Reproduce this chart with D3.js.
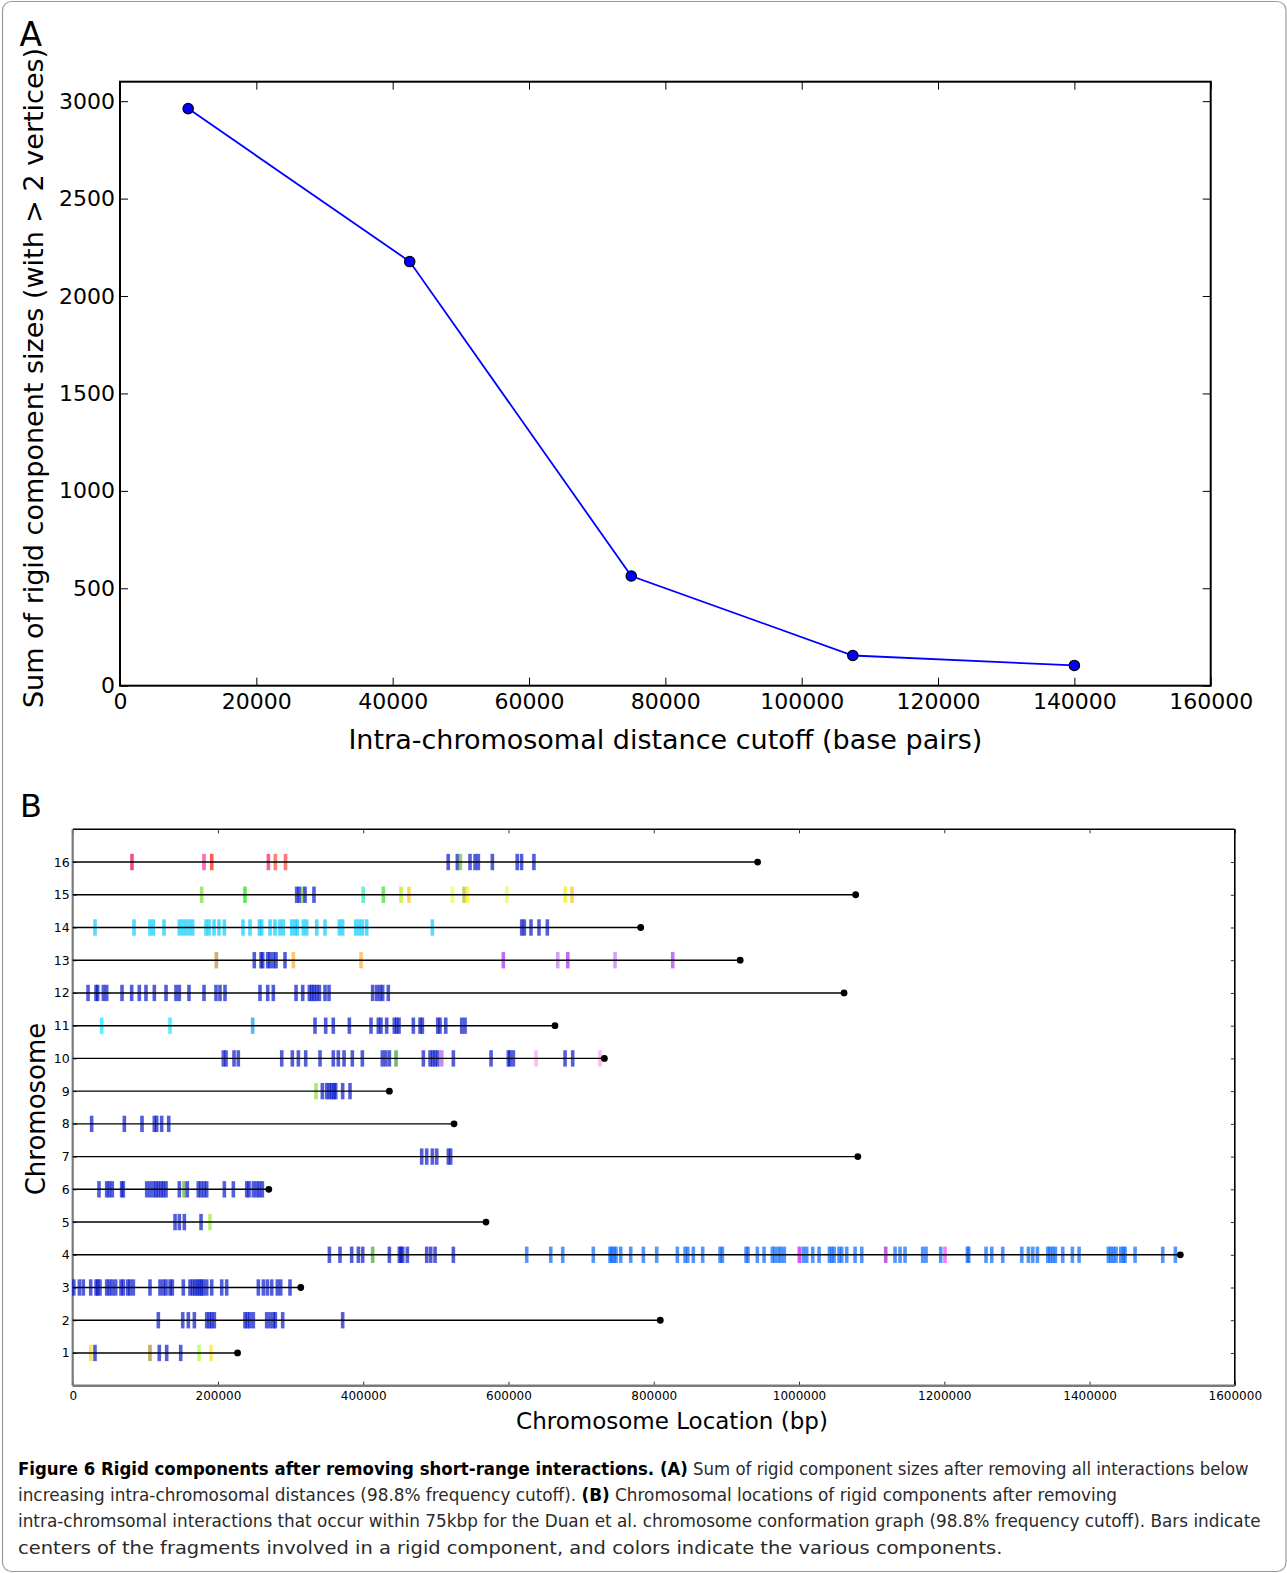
<!DOCTYPE html>
<html>
<head>
<meta charset="utf-8">
<script src="https://cdn.jsdelivr.net/npm/d3@7"></script>
<style>
  body { margin: 0; background: #fff; }
  text { font-family: "DejaVu Sans", sans-serif; }
</style>
</head>
<body>
<svg id="fig" width="1287" height="1573"></svg>
<script>
// ---- panel A data ----
var cutoffs = [10000, 42500, 75000, 107500, 140000];
var rigidSums = [2962, 2177, 563, 155, 104];
var xTicksA = [0, 20000, 40000, 60000, 80000, 100000, 120000, 140000, 160000];
var yTicksA = [0, 500, 1000, 1500, 2000, 2500, 3000];

// ---- panel B data (positions in kbp) ----
var chromosomes = [1, 2, 3, 4, 5, 6, 7, 8, 9, 10, 11, 12, 13, 14, 15, 16];
var chromLengths = [227, 809, 314, 1525, 569, 270, 1081, 525, 436, 732, 664, 1062, 919, 782, 1078, 943];
var xTicksB = [0, 200, 400, 600, 800, 1000, 1200, 1400, 1600];

var B = "#0011cc", LB = "#0066ff", CY = "#00ccff";
var chr1 = [[24.8, "#ffd700"], [30.7, B], [106.4, "#aa8811"], [119.2, B], [129.4, B], [148.7, B], [173.9, "#aaff22"], [190.4, "#ffe600"]];
var chr2 = [117.9, 151.5, 159.2, 167.5, 184.5, 188.1, 191.4, 195, 237.2, 240.4, 244.1, 248.7, 267.1, 271.7, 276.2, 279, 289.1, 371.7].map(function(p){ return [p, B]; });
var chr3 = [1.5, 9.2, 14.6, 24.8, 32.1, 34.4, 37.6, 46.8, 50.4, 54.5, 59.2, 66.5, 69.7, 75.7, 78.9, 83.5, 106.4, 120.2, 124.8, 128.5, 134, 137.2,
  152.3, 161.5, 165.2, 168.4, 171.6, 174.3, 177.1, 179.8, 184.5, 191.4, 205.2, 212, 255.6, 262.5, 268, 274, 281.7, 286.4, 299.2].map(function(p){ return [p, B]; });
var chr4 = [[353.4, B], [368, B], [384.1, B], [393.3, B], [399.3, B], [413, "#33aa22"], [436, B], [449.7, B], [452, B], [454.4, B], [460.7, B],
  [487.4, B], [492.9, B], [498.9, B], [524.1, B],
  [625.1, LB], [658.2, LB], [674.7, LB], [716.8, LB], [739.8, LB], [742.1, LB], [745.3, LB], [748, LB], [754.5, LB], [768.3, LB], [785.7, LB],
  [804.1, LB], [832.5, LB], [843.1, LB], [846.8, LB], [854.5, LB], [867.4, LB], [891.3, LB], [894.5, LB], [927.1, LB], [929.8, LB], [942.6, LB],
  [951.9, LB], [963.3, LB], [967, LB], [971.6, LB], [975.3, LB], [979.8, LB], [1000.5, "#cc00ee"], [1006, LB], [1010.6, LB], [1018.9, LB],
  [1027.6, LB], [1041.8, LB], [1045, LB], [1048.3, LB], [1055.1, LB], [1058.8, LB], [1065.7, LB], [1077.2, LB], [1086.4, LB], [1119.4, "#aa11cc"],
  [1132.2, LB], [1139.1, LB], [1146, LB], [1170.3, LB], [1174.9, LB], [1195.1, LB], [1201, "#ff33ff"], [1231.8, LB], [1233.7, LB], [1257.5, LB],
  [1265.4, LB], [1280.5, LB], [1306.7, LB], [1315.8, LB], [1321.8, LB], [1328.2, LB], [1342.5, LB], [1345.6, LB], [1349.4, LB], [1352.9, LB],
  [1363.1, LB], [1376.4, LB], [1385.6, LB], [1425.9, LB], [1429.2, LB], [1432.8, LB], [1436.5, LB], [1443, LB], [1446.6, LB], [1448.9, LB],
  [1462.7, LB], [1500.8, LB], [1518.2, LB]];
var chr5 = [[140.9, B], [146.8, B], [153.7, B], [176.7, B], [189, "#99ee22"]];
var chr6 = [[36.2, B], [46.8, B], [50.4, B], [54.5, B], [67.4, B], [69.7, B], [101.9, B], [106.4, B], [111, B], [114.7, B], [117.9, B], [121.6, B],
  [124.8, B], [128.5, B], [146.8, B], [153.3, "#55aa22"], [157.8, B], [172.9, B], [176.7, B], [180.8, B], [184.5, B], [208.8, B], [221.2, B],
  [239.6, B], [242.8, B], [248.7, B], [253.3, B], [257, B], [261.1, B]];
var chr7 = [480.5, 487.4, 495.2, 501.2, 517.2, 520.4].map(function(p){ return [p, B]; });
var chr8 = [26.1, 71.1, 95.4, 112.4, 115.6, 122.5, 132.2].map(function(p){ return [p, B]; });
var chr9 = [[335, "#88dd22"], [343.7, B], [349.7, B], [353.4, B], [356.6, B], [359.8, B], [362.1, B], [371.7, B], [381.8, B]];
var chr10 = [[207.4, B], [211.1, B], [222.1, B], [228, B], [287.8, B], [302.4, B], [310.7, B], [320.8, B], [340.5, B], [358.8, B], [365.7, B],
  [373.6, B], [385, B], [398.8, B], [426.3, B], [431, B], [436, B], [445.2, "#339922"], [482.8, B], [492, B], [495.7, B], [498.9, B], [502.6, B],
  [508.1, "#aa55ee"], [524.1, B], [576, B], [599.8, B], [602.1, B], [606.7, B], [638, "#ff99ee"], [677.9, B], [688.4, B], [726, "#ff99ee"]];
var chr11 = [[39.9, "#00eaff"], [134, "#00eaff"], [247.8, "#0099e6"], [333.6, B], [348.3, B], [358.8, B], [380.9, B], [410.7, B], [420.8, B],
  [424.5, B], [432.3, B], [442.8, B], [446.1, B], [449.3, B], [469, B], [478.2, B], [481.4, B], [502.6, B], [505.7, B], [513.6, B], [535.6, B], [540.2, B]];
var chr12 = [21.1, 32.1, 34.4, 42.2, 46.8, 67.9, 81.2, 91.7, 100.9, 112.4, 128.5, 142.2, 146.8, 160.1, 180.8, 197.3, 202.8, 209.7, 257.9, 268.5,
  276.2, 307.5, 316.7, 325.8, 329.1, 332.3, 336, 339.6, 347.4, 352.9, 413, 418.6, 423.1, 426.8, 434.5].map(function(p){ return [p, B]; });
var chr13 = [[197.8, "#bb8833"], [250, B], [259.3, B], [261.6, B], [268.5, B], [271.7, B], [276.3, B], [280, B], [292.3, B], [303.8, "#ffaa22"],
  [397, "#ffaa22"], [592.9, "#aa22ee"], [667.8, "#bb77ee"], [681.6, "#aa22ee"], [746.7, "#bb77ee"], [826.1, "#aa33ee"]];
var chr14 = [30.7, 84.4, 106.4, 111, 125.7, 146.8, 151.5, 156, 160.6, 165.2, 183.5, 187.7, 194.6, 201.4, 208.8, 234.5, 244.1, 257, 260.2, 271.7,
  278.5, 285.4, 290, 301.5, 306, 309.3, 317.5, 322.2, 336, 347.4, 367.1, 371.7, 389.6, 394.2, 398.8, 404.8, 495.2].map(function(p){ return [p, CY]; })
  .concat([618.2, 621.8, 631, 642, 653.5].map(function(p){ return [p, B]; }));
var chr15 = [[177.6, "#77dd22"], [237.2, "#00e600"], [308.4, B], [312, B], [316.7, "#77cc22"], [319.9, B], [332.2, B], [400, "#22ee99"],
  [427.7, "#33dd22"], [452, "#b3ee00"], [463, "#ffbb22"], [522.7, "#e6ff33"], [538.8, "#aabb22"], [543.4, "#ffee00"], [597.6, "#e6ff33"],
  [678.3, "#eeee00"], [687.5, "#ffbb22"]];
var chr16 = [[81.6, "#e6003c"], [180.8, "#ff2299"], [191.4, "#ff1100"], [269.4, "#ff1166"], [279, "#ff4433"], [293, "#ff3a3a"], [517, B],
  [529.6, B], [533.7, "#66bb33"], [547, B], [554, B], [558.5, B], [577.8, B], [612, B], [618, B], [635, B]];
var chromBars = [chr1, chr2, chr3, chr4, chr5, chr6, chr7, chr8, chr9, chr10, chr11, chr12, chr13, chr14, chr15, chr16];

var svg = d3.select("#fig");

// outer frame
svg.append("rect")
  .attr("x", 2.5).attr("y", 1.5)
  .attr("width", 1283.5).attr("height", 1570)
  .attr("rx", 9)
  .attr("fill", "#fff")
  .attr("stroke", "#9a9a9a")
  .attr("stroke-width", 1.2);

// ================= panel A =================
var xA = d3.scaleLinear().domain([0, 160000]).range([120, 1210.7]);
var yA = d3.scaleLinear().domain([0, 3100]).range([685.7, 81.7]);
var gA = svg.append("g");

function styleAxis(g, size){
  g.select(".domain").remove();
  g.selectAll("line").attr("stroke", "#000").attr("stroke-width", 1);
  g.selectAll("text").attr("font-family", "DejaVu Sans").attr("font-size", size).attr("fill", "#000");
}

gA.append("g")
  .attr("transform", "translate(0,685.7)")
  .call(d3.axisBottom(xA).tickValues(xTicksA).tickFormat(d3.format("d")).tickSizeInner(-8).tickSizeOuter(0).tickPadding(8))
  .call(styleAxis, 22);
gA.append("g")
  .attr("transform", "translate(0,81.7)")
  .call(d3.axisTop(xA).tickValues(xTicksA).tickFormat("").tickSizeInner(-8).tickSizeOuter(0))
  .call(styleAxis, 22);
gA.append("g")
  .attr("transform", "translate(120,0)")
  .call(d3.axisLeft(yA).tickValues(yTicksA).tickFormat(d3.format("d")).tickSizeInner(-8).tickSizeOuter(0).tickPadding(5))
  .call(styleAxis, 22);
gA.append("g")
  .attr("transform", "translate(1210.7,0)")
  .call(d3.axisRight(yA).tickValues(yTicksA).tickFormat("").tickSizeInner(-8).tickSizeOuter(0))
  .call(styleAxis, 22);

gA.append("rect")
  .attr("x", xA(0)).attr("y", yA(3100))
  .attr("width", xA(160000) - xA(0)).attr("height", yA(0) - yA(3100))
  .attr("fill", "none").attr("stroke", "#000").attr("stroke-width", 2);

var ptsA = cutoffs.map(function(c, i){ return [c, rigidSums[i]]; });
gA.append("path")
  .datum(ptsA)
  .attr("fill", "none")
  .attr("stroke", "#0000ff")
  .attr("stroke-width", 1.8)
  .attr("d", d3.line().x(function(d){ return xA(d[0]); }).y(function(d){ return yA(d[1]); }));
gA.selectAll("circle.pt")
  .data(ptsA)
  .enter().append("circle")
  .attr("class", "pt")
  .attr("cx", function(d){ return xA(d[0]); })
  .attr("cy", function(d){ return yA(d[1]); })
  .attr("r", 5.2)
  .attr("fill", "#0000ff")
  .attr("stroke", "#000")
  .attr("stroke-width", 1.2);

gA.append("text")
  .attr("x", 665.4).attr("y", 749)
  .attr("text-anchor", "middle")
  .attr("font-size", 27)
  .text("Intra-chromosomal distance cutoff (base pairs)");
gA.append("text")
  .attr("transform", "translate(42.5,378) rotate(-90)")
  .attr("text-anchor", "middle")
  .attr("font-size", 27)
  .text("Sum of rigid component sizes (with > 2 vertices)");

svg.append("text").attr("x", 19.5).attr("y", 45.7).attr("font-size", 33).text("A");
svg.append("text").attr("x", 20).attr("y", 816.7).attr("font-size", 32).text("B");

// ================= panel B =================
var xB = d3.scaleLinear().domain([0, 1600]).range([72.7, 1234.8]);
var yB = d3.scaleLinear().domain([0, 17]).range([1385.7, 829.3]);
var gB = svg.append("g");

function styleAxisB(g){
  g.select(".domain").remove();
  g.selectAll("line").attr("stroke", "#333").attr("stroke-width", 1);
  g.selectAll("text").attr("font-family", "DejaVu Sans").attr("font-size", 12).attr("fill", "#000");
}

gB.append("g")
  .attr("transform", "translate(0,1385.7)")
  .call(d3.axisBottom(xB).tickValues(xTicksB).tickFormat(function(d){ return String(d * 1000); }).tickSizeInner(-4).tickSizeOuter(0).tickPadding(6))
  .call(styleAxisB);
gB.append("g")
  .attr("transform", "translate(0,829.3)")
  .call(d3.axisTop(xB).tickValues(xTicksB).tickFormat("").tickSizeInner(-4).tickSizeOuter(0))
  .call(styleAxisB);
gB.append("g")
  .attr("transform", "translate(72.7,0)")
  .call(d3.axisLeft(yB).tickValues(chromosomes).tickFormat(d3.format("d")).tickSizeInner(-4).tickSizeOuter(0).tickPadding(3))
  .call(styleAxisB)
  .selectAll("text").attr("font-size", 12.5);
gB.append("g")
  .attr("transform", "translate(1234.8,0)")
  .call(d3.axisRight(yB).tickValues(chromosomes).tickFormat("").tickSizeInner(-4).tickSizeOuter(0))
  .call(styleAxisB);

// frame: top/right black, bottom/left grey
gB.append("line").attr("x1", xB(0)).attr("x2", xB(1600)).attr("y1", yB(17)).attr("y2", yB(17))
  .attr("stroke", "#000").attr("stroke-width", 1.4);
gB.append("line").attr("x1", xB(1600)).attr("x2", xB(1600)).attr("y1", yB(17)).attr("y2", yB(0))
  .attr("stroke", "#000").attr("stroke-width", 1.6);
gB.append("line").attr("x1", xB(0)).attr("x2", xB(1600)).attr("y1", yB(0)).attr("y2", yB(0))
  .attr("stroke", "#7a7a7a").attr("stroke-width", 2.4);
gB.append("line").attr("x1", xB(0)).attr("x2", xB(0)).attr("y1", yB(17)).attr("y2", yB(0))
  .attr("stroke", "#7a7a7a").attr("stroke-width", 2.2);

var barH = yB(0) - yB(0.5);
chromosomes.forEach(function(c, i){
  var row = gB.append("g");
  row.selectAll("rect")
    .data(chromBars[i])
    .enter().append("rect")
    .attr("x", function(d){ return xB(d[0]) - 1.8; })
    .attr("y", yB(c + 0.25))
    .attr("width", 3.6)
    .attr("height", barH)
    .attr("fill", function(d){ return d[1]; })
    .attr("fill-opacity", 0.68);
  row.append("line")
    .attr("x1", xB(0)).attr("x2", xB(chromLengths[i]))
    .attr("y1", yB(c)).attr("y2", yB(c))
    .attr("stroke", "#000").attr("stroke-width", 1.4);
  row.append("circle")
    .attr("cx", xB(chromLengths[i])).attr("cy", yB(c))
    .attr("r", 3.4).attr("fill", "#000");
});

gB.append("text")
  .attr("x", 672).attr("y", 1429)
  .attr("text-anchor", "middle")
  .attr("font-family", "Liberation Sans")
  .attr("font-size", 23)
  .text("Chromosome Location (bp)");
gB.append("text")
  .attr("transform", "translate(45,1109) rotate(-90)")
  .attr("text-anchor", "middle")
  .attr("font-family", "Liberation Sans")
  .attr("font-size", 26)
  .text("Chromosome");

// ================= caption =================
var captionLines = [
  {end: 1249, parts: [["Figure 6 Rigid components after removing short-range interactions. (A)", true], [" Sum of rigid component sizes after removing all interactions below", false]]},
  {end: 1118, parts: [["increasing intra-chromosomal distances (98.8% frequency cutoff). ", false], ["(B)", true], [" Chromosomal locations of rigid components after removing", false]]},
  {end: 1261, parts: [["intra-chromsomal interactions that occur within 75kbp for the Duan et al. chromosome conformation graph (98.8% frequency cutoff). Bars indicate", false]]},
  {end: 1003, parts: [["centers of the fragments involved in a rigid component, and colors indicate the various components.", false]]}
];
var capG = svg.append("g");
captionLines.forEach(function(ln, i){
  var g = capG.append("g");
  var t = g.append("text")
    .attr("x", 0).attr("y", 0)
    .attr("font-family", "Open Sans, Noto Sans, sans-serif")
    .attr("font-size", 18.5)
    .attr("xml:space", "preserve");
  ln.parts.forEach(function(p){
    t.append("tspan")
      .attr("font-weight", p[1] ? "bold" : "normal")
      .attr("fill", p[1] ? "#000" : "#2a2a2a")
      .text(p[0]);
  });
  var w = t.node().getComputedTextLength();
  var s = (ln.end - 18) / w;
  g.attr("transform", "translate(18," + (1475 + i * 26.2) + ") scale(" + s + ",1)");
});
</script>
</body>
</html>
